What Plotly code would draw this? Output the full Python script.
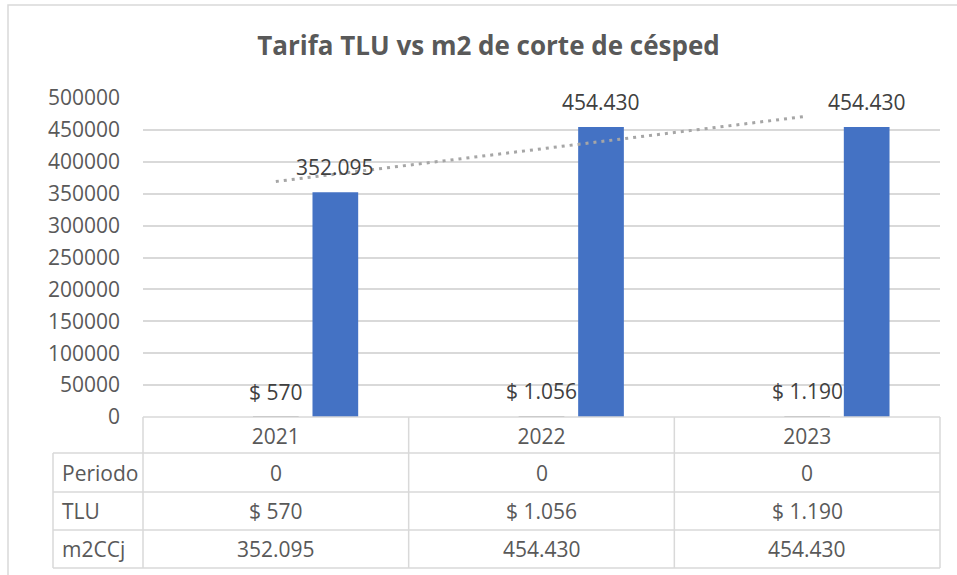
import numpy as np
import plotly.graph_objects as go

# ---------------- data ----------------
categories = ["2021", "2022", "2023"]
series_names = ["Periodo", "TLU", "m2CCj"]
periodo = [0, 0, 0]
tlu = [570, 1056, 1190]
m2ccj = [352095, 454430, 454430]
periodo_labels = ["0", "0", "0"]
tlu_labels = ["$ 570", "$ 1.056", "$ 1.190"]
m2ccj_labels = ["352.095", "454.430", "454.430"]
y_ticks = [0, 50000, 100000, 150000, 200000, 250000, 300000, 350000, 400000, 450000, 500000]
title_text = "Tarifa TLU vs m2 de corte de césped"

# ---------------- layout constants ----------------
W, H = 957, 575
L, R, T, B = 143, 17, 98, 158
PW, PH = W - L - R, H - T - B
FONT = "Open Sans"
GRID = "#d9d9d9"
TXT = "#595959"
LBL = "#404040"
BLUE = "#4472C4"


def px_x(x):
    return (x - L) / PW


def px_y(y):
    return (H - B - y) / PH


fig = go.Figure()
fig.add_trace(go.Bar(x=categories, y=periodo, name=series_names[0],
                     marker=dict(color="#ED7D31", line=dict(width=0))))
fig.add_trace(go.Bar(x=categories, y=tlu, name=series_names[1],
                     marker=dict(color="#A5A5A5", line=dict(width=0))))
fig.add_trace(go.Bar(x=categories, y=m2ccj, name=series_names[2],
                     marker=dict(color=BLUE, line=dict(width=0))))

# linear trendline on m2CCj
xi = np.arange(1, len(m2ccj) + 1)
slope, intercept = np.polyfit(xi, m2ccj, 1)
trend = intercept + slope * xi
fig.add_trace(go.Scatter(x=categories, y=trend, mode="lines",
                         line=dict(color="#A6A6A6", width=3, dash="3px,5px"),
                         hoverinfo="skip"))

annotations = []
slot_px = (1 - 0.328) * PW / len(categories) / 3
# data labels (x given as category index)
for i, (v, t) in enumerate(zip(tlu, tlu_labels)):
    annotations.append(dict(x=i, y=v, xref="x", yref="y", text=t, showarrow=False,
                            yshift=25, yanchor="middle",
                            font=dict(family=FONT, size=21, color=LBL)))
for i, (v, t) in enumerate(zip(m2ccj, m2ccj_labels)):
    annotations.append(dict(x=i, y=v, xref="x", yref="y", text=t, showarrow=False,
                            xshift=slot_px, yshift=25, yanchor="middle",
                            font=dict(family=FONT, size=21, color=LBL)))

# data table
row_lines = [453, 492, 530, 568]
row_values = [periodo_labels, tlu_labels, m2ccj_labels]
shapes = []
line_style = dict(color=GRID, width=1.5)
shapes.append(dict(type="line", xref="paper", yref="paper", x0=0, x1=1,
                   y0=0, y1=0, line=line_style))
for k in range(len(categories) + 1):
    shapes.append(dict(type="line", xref="paper", yref="paper", x0=k / len(categories),
                       x1=k / len(categories), y0=0, y1=px_y(row_lines[-1]), line=line_style))
for yl in row_lines:
    shapes.append(dict(type="line", xref="paper", yref="paper", x0=px_x(53), x1=1,
                       y0=px_y(yl), y1=px_y(yl), line=line_style))
shapes.append(dict(type="line", xref="paper", yref="paper", x0=px_x(53), x1=px_x(53),
                   y0=px_y(row_lines[0]), y1=px_y(row_lines[-1]), line=line_style))
# outer chart border
shapes.append(dict(type="rect", xref="paper", yref="paper", x0=px_x(8), x1=px_x(962),
                   y0=px_y(580), y1=px_y(5), line=dict(color=GRID, width=1.5), layer="below"))

for r in range(len(series_names)):
    yc = px_y((row_lines[r] + row_lines[r + 1]) / 2)
    annotations.append(dict(x=px_x(60), y=yc, xref="paper", yref="paper",
                            text=series_names[r], showarrow=False, xanchor="left",
                            yanchor="middle", font=dict(family=FONT, size=21, color=TXT)))
    for k, val in enumerate(row_values[r]):
        annotations.append(dict(x=(k + 0.5) / len(categories), y=yc, xref="paper",
                                yref="paper", text=val, showarrow=False, xanchor="center",
                                yanchor="middle", font=dict(family=FONT, size=21, color=TXT)))

fig.update_layout(
    width=W, height=H,
    margin=dict(l=L, r=R, t=T, b=B, autoexpand=False),
    paper_bgcolor="white", plot_bgcolor="white",
    showlegend=False,
    barmode="group", bargap=0.328, bargroupgap=0.232,
    title=dict(text="<b>" + title_text + "</b>", x=488.5 / W, xanchor="center",
               y=1 - 46 / H, yanchor="middle",
               font=dict(family=FONT, size=26, color=TXT)),
    font=dict(family=FONT, size=21, color=TXT),
    xaxis=dict(type="category", range=[-0.5, len(categories) - 0.5], automargin=False,
               showgrid=False, showline=False, zeroline=False,
               ticks="", tickfont=dict(family=FONT, size=21, color=TXT),
               ticklabelstandoff=5),
    yaxis=dict(range=[0, 500000], tickvals=y_ticks, tickformat="d", automargin=False,
               showgrid=True, gridcolor=GRID, gridwidth=1.5, zeroline=False,
               showline=False, ticks="", ticklabelstandoff=22,
               tickfont=dict(family=FONT, size=21, color=TXT)),
    annotations=annotations,
    shapes=shapes,
)

fig.write_html("out.html", config={"displayModeBar": False},
               post_script="document.body.style.margin='0';document.body.style.overflow='hidden';")
